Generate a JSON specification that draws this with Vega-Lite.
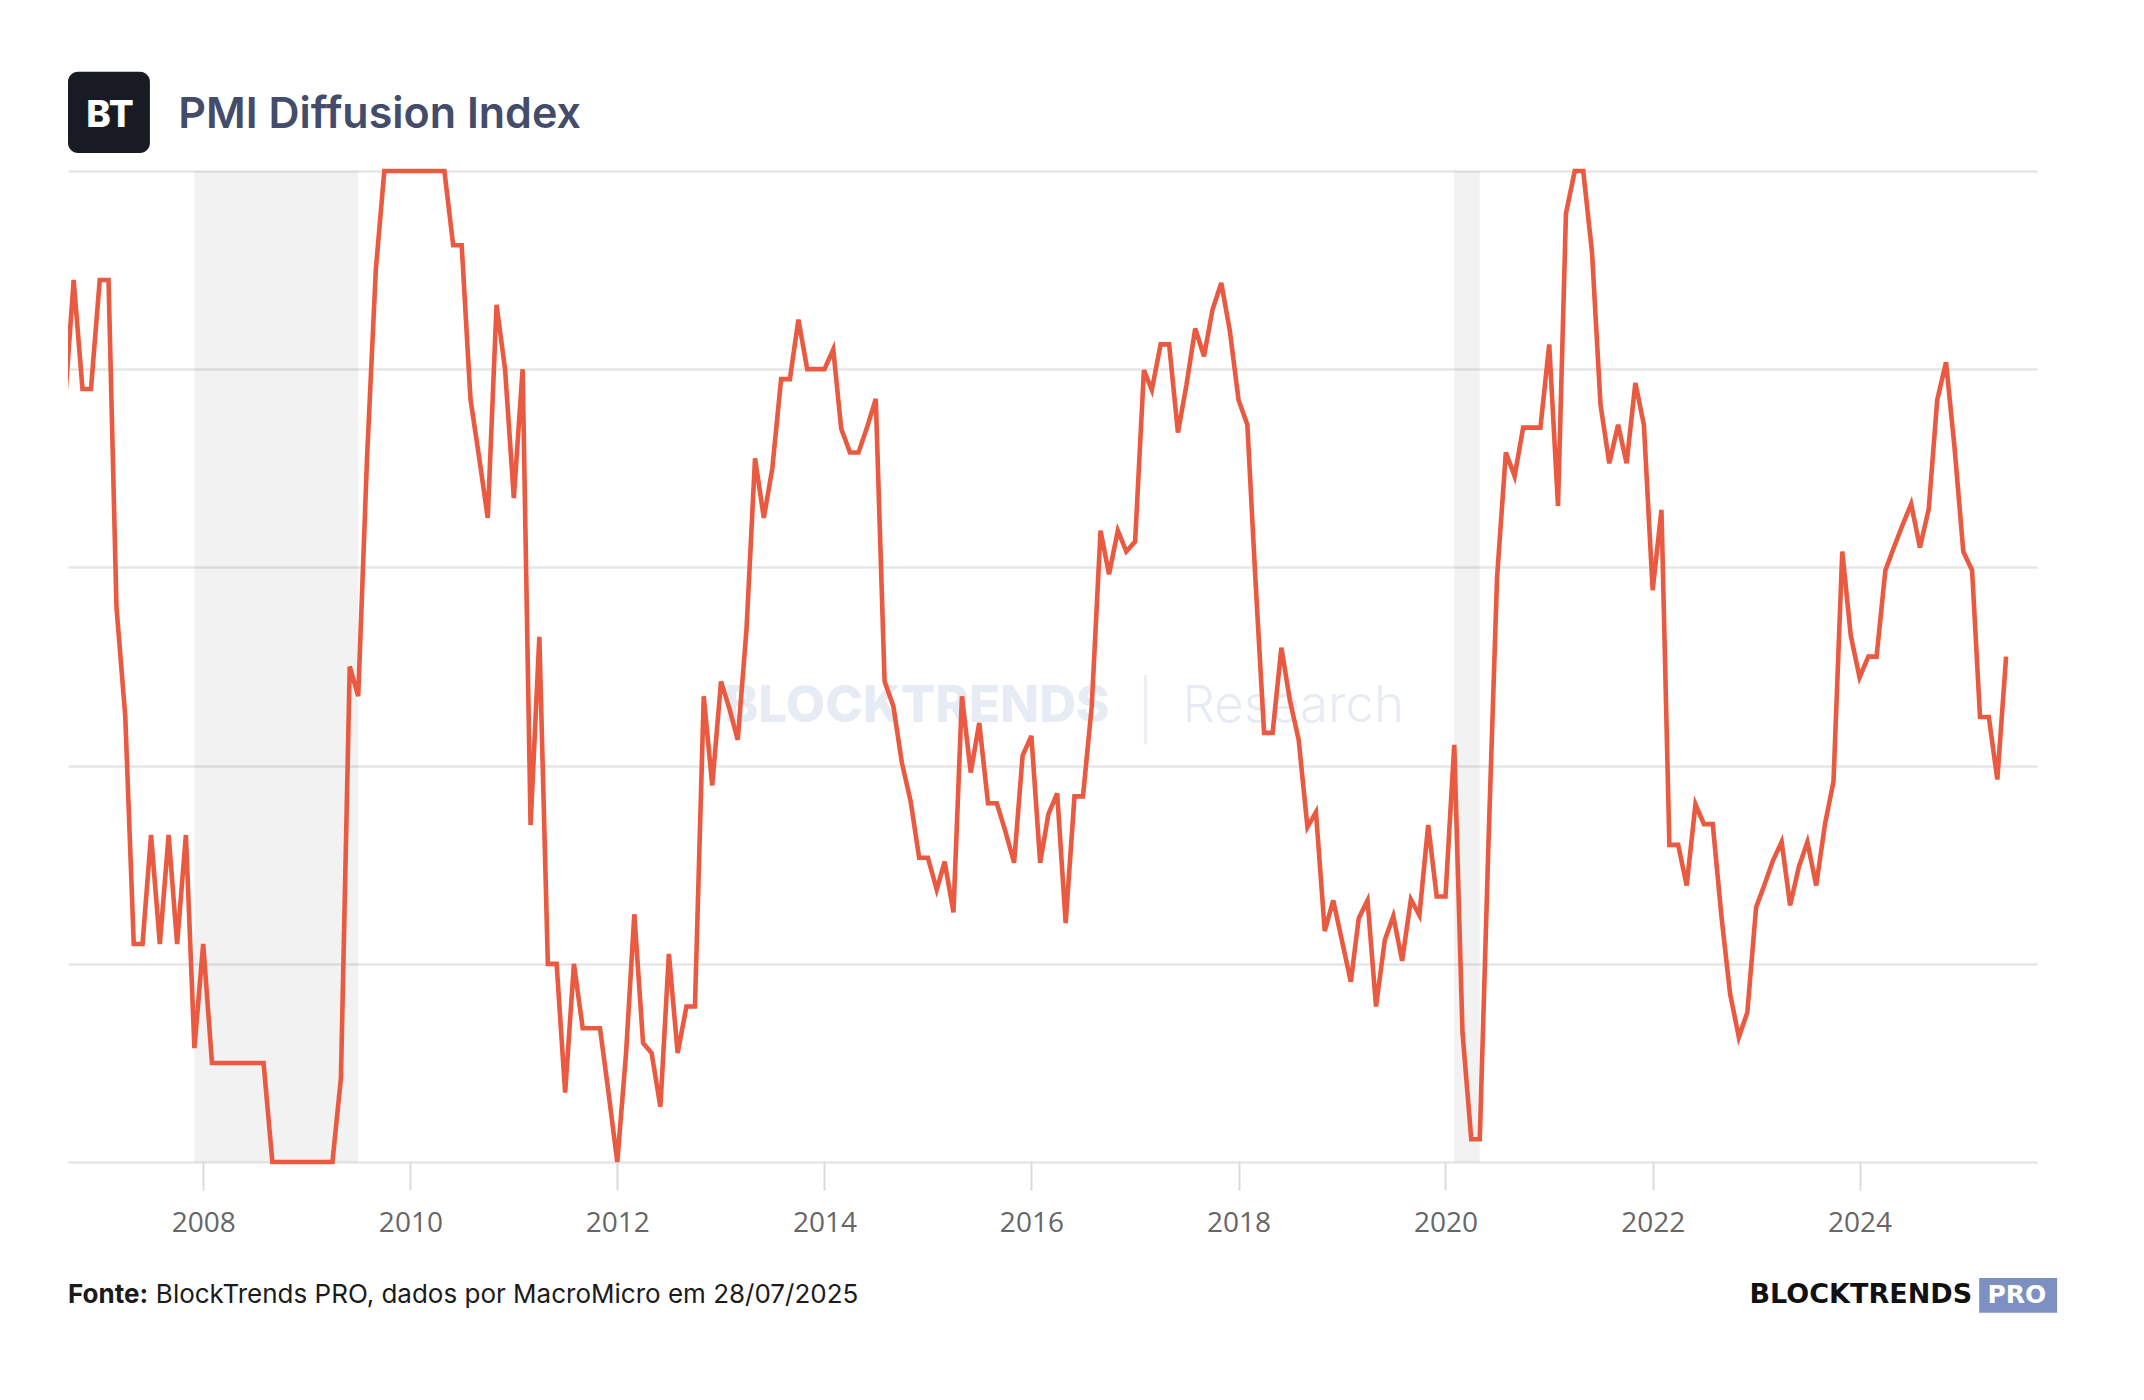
{
  "$schema": "https://vega.github.io/schema/vega-lite/v6.json",
  "width": 1969,
  "height": 1001,
  "autosize": "none",
  "padding": {"left": 68, "top": 166, "right": 107, "bottom": 233},
  "background": "white",
  "config": {"view": {"stroke": null}},
  "datasets": {
    "pmi": [
      {"date": "2006-09-01", "v": 77}, {"date": "2006-10-01", "v": 89}, {"date": "2006-11-01", "v": 78}, {"date": "2006-12-01", "v": 78},
      {"date": "2007-01-01", "v": 89}, {"date": "2007-02-01", "v": 89}, {"date": "2007-03-01", "v": 56}, {"date": "2007-04-01", "v": 45},
      {"date": "2007-05-01", "v": 22}, {"date": "2007-06-01", "v": 22}, {"date": "2007-07-01", "v": 33}, {"date": "2007-08-01", "v": 22},
      {"date": "2007-09-01", "v": 33}, {"date": "2007-10-01", "v": 22}, {"date": "2007-11-01", "v": 33}, {"date": "2007-12-01", "v": 11.5},
      {"date": "2008-01-01", "v": 22}, {"date": "2008-02-01", "v": 10}, {"date": "2008-03-01", "v": 10}, {"date": "2008-04-01", "v": 10},
      {"date": "2008-05-01", "v": 10}, {"date": "2008-06-01", "v": 10}, {"date": "2008-07-01", "v": 10}, {"date": "2008-08-01", "v": 10},
      {"date": "2008-09-01", "v": 0}, {"date": "2008-10-01", "v": 0}, {"date": "2008-11-01", "v": 0}, {"date": "2008-12-01", "v": 0},
      {"date": "2009-01-01", "v": 0}, {"date": "2009-02-01", "v": 0}, {"date": "2009-03-01", "v": 0}, {"date": "2009-04-01", "v": 0},
      {"date": "2009-05-01", "v": 8.5}, {"date": "2009-06-01", "v": 50}, {"date": "2009-07-01", "v": 47}, {"date": "2009-08-01", "v": 71},
      {"date": "2009-09-01", "v": 90}, {"date": "2009-10-01", "v": 100}, {"date": "2009-11-01", "v": 100}, {"date": "2009-12-01", "v": 100},
      {"date": "2010-01-01", "v": 100}, {"date": "2010-02-01", "v": 100}, {"date": "2010-03-01", "v": 100}, {"date": "2010-04-01", "v": 100},
      {"date": "2010-05-01", "v": 100}, {"date": "2010-06-01", "v": 92.5}, {"date": "2010-07-01", "v": 92.5}, {"date": "2010-08-01", "v": 77},
      {"date": "2010-09-01", "v": 71}, {"date": "2010-10-01", "v": 65}, {"date": "2010-11-01", "v": 86.5}, {"date": "2010-12-01", "v": 80},
      {"date": "2011-01-01", "v": 67}, {"date": "2011-02-01", "v": 80}, {"date": "2011-03-01", "v": 34}, {"date": "2011-04-01", "v": 53},
      {"date": "2011-05-01", "v": 20}, {"date": "2011-06-01", "v": 20}, {"date": "2011-07-01", "v": 7}, {"date": "2011-08-01", "v": 20},
      {"date": "2011-09-01", "v": 13.5}, {"date": "2011-10-01", "v": 13.5}, {"date": "2011-11-01", "v": 13.5}, {"date": "2011-12-01", "v": 7},
      {"date": "2012-01-01", "v": 0}, {"date": "2012-02-01", "v": 11}, {"date": "2012-03-01", "v": 25}, {"date": "2012-04-01", "v": 12},
      {"date": "2012-05-01", "v": 11}, {"date": "2012-06-01", "v": 5.6}, {"date": "2012-07-01", "v": 21}, {"date": "2012-08-01", "v": 11},
      {"date": "2012-09-01", "v": 15.7}, {"date": "2012-10-01", "v": 15.7}, {"date": "2012-11-01", "v": 47}, {"date": "2012-12-01", "v": 38},
      {"date": "2013-01-01", "v": 48.5}, {"date": "2013-02-01", "v": 45.6}, {"date": "2013-03-01", "v": 42.6}, {"date": "2013-04-01", "v": 53.8},
      {"date": "2013-05-01", "v": 71}, {"date": "2013-06-01", "v": 65}, {"date": "2013-07-01", "v": 70}, {"date": "2013-08-01", "v": 79},
      {"date": "2013-09-01", "v": 79}, {"date": "2013-10-01", "v": 85}, {"date": "2013-11-01", "v": 80}, {"date": "2013-12-01", "v": 80},
      {"date": "2014-01-01", "v": 80}, {"date": "2014-02-01", "v": 82}, {"date": "2014-03-01", "v": 74}, {"date": "2014-04-01", "v": 71.6},
      {"date": "2014-05-01", "v": 71.6}, {"date": "2014-06-01", "v": 74.2}, {"date": "2014-07-01", "v": 77}, {"date": "2014-08-01", "v": 48.5},
      {"date": "2014-09-01", "v": 46}, {"date": "2014-10-01", "v": 40.3}, {"date": "2014-11-01", "v": 36.4}, {"date": "2014-12-01", "v": 30.7},
      {"date": "2015-01-01", "v": 30.7}, {"date": "2015-02-01", "v": 27.5}, {"date": "2015-03-01", "v": 30.3}, {"date": "2015-04-01", "v": 25.2},
      {"date": "2015-05-01", "v": 47}, {"date": "2015-06-01", "v": 39.3}, {"date": "2015-07-01", "v": 44.3}, {"date": "2015-08-01", "v": 36.2},
      {"date": "2015-09-01", "v": 36.2}, {"date": "2015-10-01", "v": 33.4}, {"date": "2015-11-01", "v": 30.2}, {"date": "2015-12-01", "v": 41},
      {"date": "2016-01-01", "v": 43}, {"date": "2016-02-01", "v": 30.2}, {"date": "2016-03-01", "v": 35.1}, {"date": "2016-04-01", "v": 37.2},
      {"date": "2016-05-01", "v": 24.1}, {"date": "2016-06-01", "v": 36.9}, {"date": "2016-07-01", "v": 36.9}, {"date": "2016-08-01", "v": 46},
      {"date": "2016-09-01", "v": 63.7}, {"date": "2016-10-01", "v": 59.3}, {"date": "2016-11-01", "v": 63.7}, {"date": "2016-12-01", "v": 61.6},
      {"date": "2017-01-01", "v": 62.6}, {"date": "2017-02-01", "v": 79.9}, {"date": "2017-03-01", "v": 77.9}, {"date": "2017-04-01", "v": 82.5},
      {"date": "2017-05-01", "v": 82.5}, {"date": "2017-06-01", "v": 73.6}, {"date": "2017-07-01", "v": 78.4}, {"date": "2017-08-01", "v": 84.1},
      {"date": "2017-09-01", "v": 81.3}, {"date": "2017-10-01", "v": 86}, {"date": "2017-11-01", "v": 88.7}, {"date": "2017-12-01", "v": 83.9},
      {"date": "2018-01-01", "v": 76.9}, {"date": "2018-02-01", "v": 74.4}, {"date": "2018-03-01", "v": 59}, {"date": "2018-04-01", "v": 43.3},
      {"date": "2018-05-01", "v": 43.3}, {"date": "2018-06-01", "v": 51.9}, {"date": "2018-07-01", "v": 46.6}, {"date": "2018-08-01", "v": 42.6},
      {"date": "2018-09-01", "v": 33.8}, {"date": "2018-10-01", "v": 35.3}, {"date": "2018-11-01", "v": 23.3}, {"date": "2018-12-01", "v": 26.4},
      {"date": "2019-01-01", "v": 22.3}, {"date": "2019-02-01", "v": 18.2}, {"date": "2019-03-01", "v": 24.6}, {"date": "2019-04-01", "v": 26.4},
      {"date": "2019-05-01", "v": 15.7}, {"date": "2019-06-01", "v": 22.4}, {"date": "2019-07-01", "v": 24.8}, {"date": "2019-08-01", "v": 20.3},
      {"date": "2019-09-01", "v": 26.5}, {"date": "2019-10-01", "v": 24.9}, {"date": "2019-11-01", "v": 34}, {"date": "2019-12-01", "v": 26.8},
      {"date": "2020-01-01", "v": 26.8}, {"date": "2020-02-01", "v": 42.1}, {"date": "2020-03-01", "v": 13.1}, {"date": "2020-04-01", "v": 2.3},
      {"date": "2020-05-01", "v": 2.3}, {"date": "2020-06-01", "v": 32.5}, {"date": "2020-07-01", "v": 59}, {"date": "2020-08-01", "v": 71.6},
      {"date": "2020-09-01", "v": 69.2}, {"date": "2020-10-01", "v": 74.1}, {"date": "2020-11-01", "v": 74.1}, {"date": "2020-12-01", "v": 74.1},
      {"date": "2021-01-01", "v": 82.5}, {"date": "2021-02-01", "v": 66.2}, {"date": "2021-03-01", "v": 95.7}, {"date": "2021-04-01", "v": 100},
      {"date": "2021-05-01", "v": 100}, {"date": "2021-06-01", "v": 91.8}, {"date": "2021-07-01", "v": 76.4}, {"date": "2021-08-01", "v": 70.5},
      {"date": "2021-09-01", "v": 74.4}, {"date": "2021-10-01", "v": 70.5}, {"date": "2021-11-01", "v": 78.6}, {"date": "2021-12-01", "v": 74.4},
      {"date": "2022-01-01", "v": 57.7}, {"date": "2022-02-01", "v": 65.8}, {"date": "2022-03-01", "v": 32}, {"date": "2022-04-01", "v": 32},
      {"date": "2022-05-01", "v": 27.9}, {"date": "2022-06-01", "v": 36.1}, {"date": "2022-07-01", "v": 34.1}, {"date": "2022-08-01", "v": 34.1},
      {"date": "2022-09-01", "v": 24.7}, {"date": "2022-10-01", "v": 17}, {"date": "2022-11-01", "v": 12.6}, {"date": "2022-12-01", "v": 15.1},
      {"date": "2023-01-01", "v": 25.7}, {"date": "2023-02-01", "v": 28.1}, {"date": "2023-03-01", "v": 30.4}, {"date": "2023-04-01", "v": 32.3},
      {"date": "2023-05-01", "v": 25.9}, {"date": "2023-06-01", "v": 29.8}, {"date": "2023-07-01", "v": 32.3}, {"date": "2023-08-01", "v": 27.9},
      {"date": "2023-09-01", "v": 34.1}, {"date": "2023-10-01", "v": 38.4}, {"date": "2023-11-01", "v": 61.6}, {"date": "2023-12-01", "v": 53.1},
      {"date": "2024-01-01", "v": 48.9}, {"date": "2024-02-01", "v": 51}, {"date": "2024-03-01", "v": 51}, {"date": "2024-04-01", "v": 59.7},
      {"date": "2024-05-01", "v": 62}, {"date": "2024-06-01", "v": 64.3}, {"date": "2024-07-01", "v": 66.4}, {"date": "2024-08-01", "v": 62},
      {"date": "2024-09-01", "v": 65.9}, {"date": "2024-10-01", "v": 76.9}, {"date": "2024-11-01", "v": 80.7}, {"date": "2024-12-01", "v": 72.1},
      {"date": "2025-01-01", "v": 61.6}, {"date": "2025-02-01", "v": 59.7}, {"date": "2025-03-01", "v": 44.9}, {"date": "2025-04-01", "v": 44.9},
      {"date": "2025-05-01", "v": 38.6}, {"date": "2025-06-01", "v": 51}
    ],
    "recessions": [
      {"start": "2007-12-01", "end": "2009-07-01"},
      {"start": "2020-02-01", "end": "2020-05-01"}
    ]
  },
  "layer": [
    {
      "data": {"name": "recessions"},
      "mark": {"type": "rect", "color": "#000000", "opacity": 0.05},
      "encoding": {
        "x": {"field": "start", "type": "temporal", "title": null},
        "x2": {"field": "end"},
        "y": {"datum": 100, "type": "quantitative", "title": null},
        "y2": {"datum": 0}
      }
    },
    {
      "data": {"values": [{"t": "BLOCKTRENDS"}]},
      "mark": {"type": "text", "font": "Inter", "fontSize": 51, "fontWeight": 800, "color": "#e7ecf4", "align": "left", "baseline": "alphabetic"},
      "encoding": {
        "text": {"field": "t"},
        "x": {"datum": {"year": 2013, "month": 1, "date": 13, "utc": true}, "type": "temporal", "title": null},
        "y": {"datum": 44.4, "type": "quantitative", "title": null}
      }
    },
    {
      "data": {"values": [{"t": "|"}]},
      "mark": {"type": "text", "font": "Inter", "fontSize": 58, "fontWeight": 200, "color": "#e7ecf4", "align": "center", "baseline": "alphabetic"},
      "encoding": {
        "text": {"field": "t"},
        "x": {"datum": {"year": 2017, "month": 2, "date": 7, "utc": true}, "type": "temporal", "title": null},
        "y": {"datum": 43.5, "type": "quantitative", "title": null}
      }
    },
    {
      "data": {"values": [{"t": "Research"}]},
      "mark": {"type": "text", "font": "Inter", "fontSize": 51, "fontWeight": 300, "color": "#e7ecf4", "align": "left", "baseline": "alphabetic"},
      "encoding": {
        "text": {"field": "t"},
        "x": {"datum": {"year": 2017, "month": 6, "date": 17, "utc": true}, "type": "temporal", "title": null},
        "y": {"datum": 44.4, "type": "quantitative", "title": null}
      }
    },
    {
      "data": {"name": "pmi"},
      "mark": {"type": "line", "color": "#e95a40", "strokeWidth": 4.6, "clip": true},
      "encoding": {
        "x": {
          "field": "date", "type": "temporal", "title": null,
          "scale": {"type": "utc", "domain": [{"year": 2006, "month": 9, "date": 11, "utc": true}, {"year": 2025, "month": 9, "date": 18, "utc": true}]},
          "axis": {
            "format": "%Y", "tickCount": {"interval": "year", "step": 2},
            "grid": false, "domain": false, "ticks": true, "tickColor": "#dadada", "tickWidth": 2, "tickSize": 28,
            "offset": -5, "labelFont": "Open Sans", "labelFontSize": 28, "labelColor": "#666666", "labelPadding": 19, "title": null
          }
        },
        "y": {
          "field": "v", "type": "quantitative", "title": null,
          "scale": {"domain": [-0.5, 100.5], "nice": false, "zero": false},
          "axis": {
            "values": [0, 20, 40, 60, 80, 100], "labels": false, "ticks": false, "domain": false,
            "grid": true, "gridColor": "#e6e6e6", "gridWidth": 2.5, "title": null
          }
        }
      }
    },
    {
      "data": {"values": [{}]},
      "mark": {"type": "rect", "color": "#181b23", "cornerRadius": 10},
      "encoding": {
        "x": {"datum": {"year": 2006, "month": 9, "date": 11, "utc": true}, "type": "temporal", "title": null},
        "x2": {"datum": {"year": 2007, "month": 6, "date": 27, "utc": true}},
        "y": {"datum": 110, "type": "quantitative", "title": null},
        "y2": {"datum": 101.8}
      }
    },
    {
      "data": {"values": [{"t": "BT"}]},
      "mark": {"type": "text", "font": "Inter", "fontSize": 37, "fontWeight": 800, "color": "#ffffff", "align": "center", "baseline": "alphabetic"},
      "encoding": {
        "text": {"field": "t"},
        "x": {"datum": {"year": 2007, "month": 2, "date": 6, "utc": true}, "type": "temporal", "title": null},
        "y": {"datum": 104.4, "type": "quantitative", "title": null}
      }
    },
    {
      "data": {"values": [{"t": "PMI Diffusion Index"}]},
      "mark": {"type": "text", "font": "Inter", "fontSize": 43, "fontWeight": 600, "color": "#434c6a", "align": "left", "baseline": "alphabetic"},
      "encoding": {
        "text": {"field": "t"},
        "x": {"datum": {"year": 2007, "month": 10, "date": 5, "utc": true}, "type": "temporal", "title": null},
        "y": {"datum": 104.3, "type": "quantitative", "title": null}
      }
    },
    {
      "data": {"values": [{"t": "Fonte:"}]},
      "mark": {"type": "text", "font": "Inter", "fontSize": 26, "fontWeight": 700, "color": "#1b1b1b", "align": "left", "baseline": "alphabetic"},
      "encoding": {
        "text": {"field": "t"},
        "x": {"datum": {"year": 2006, "month": 9, "date": 11, "utc": true}, "type": "temporal", "title": null},
        "y": {"datum": -14.2, "type": "quantitative", "title": null}
      }
    },
    {
      "data": {"values": [{"t": "BlockTrends PRO, dados por MacroMicro em 28/07/2025"}]},
      "mark": {"type": "text", "font": "Inter", "fontSize": 26, "fontWeight": 400, "color": "#1b1b1b", "align": "left", "baseline": "alphabetic"},
      "encoding": {
        "text": {"field": "t"},
        "x": {"datum": {"year": 2007, "month": 7, "date": 18, "utc": true}, "type": "temporal", "title": null},
        "y": {"datum": -14.2, "type": "quantitative", "title": null}
      }
    },
    {
      "data": {"values": [{"t": "BLOCKTRENDS"}]},
      "mark": {"type": "text", "font": "DejaVu Sans", "fontSize": 27, "fontWeight": 700, "color": "#111111", "align": "right", "baseline": "alphabetic"},
      "encoding": {
        "text": {"field": "t"},
        "x": {"datum": {"year": 2025, "month": 2, "date": 1, "utc": true}, "type": "temporal", "title": null},
        "y": {"datum": -14.2, "type": "quantitative", "title": null}
      }
    },
    {
      "data": {"values": [{}]},
      "mark": {"type": "rect", "color": "#7d90c2"},
      "encoding": {
        "x": {"datum": {"year": 2025, "month": 2, "date": 26, "utc": true}, "type": "temporal", "title": null},
        "x2": {"datum": {"year": 2025, "month": 11, "date": 28, "utc": true}},
        "y": {"datum": -11.7, "type": "quantitative", "title": null},
        "y2": {"datum": -15.2}
      }
    },
    {
      "data": {"values": [{"t": "PRO"}]},
      "mark": {"type": "text", "font": "DejaVu Sans", "fontSize": 25, "fontWeight": 700, "color": "#ffffff", "align": "center", "baseline": "alphabetic"},
      "encoding": {
        "text": {"field": "t"},
        "x": {"datum": {"year": 2025, "month": 7, "date": 9, "utc": true}, "type": "temporal", "title": null},
        "y": {"datum": -14.2, "type": "quantitative", "title": null}
      }
    }
  ]
}
